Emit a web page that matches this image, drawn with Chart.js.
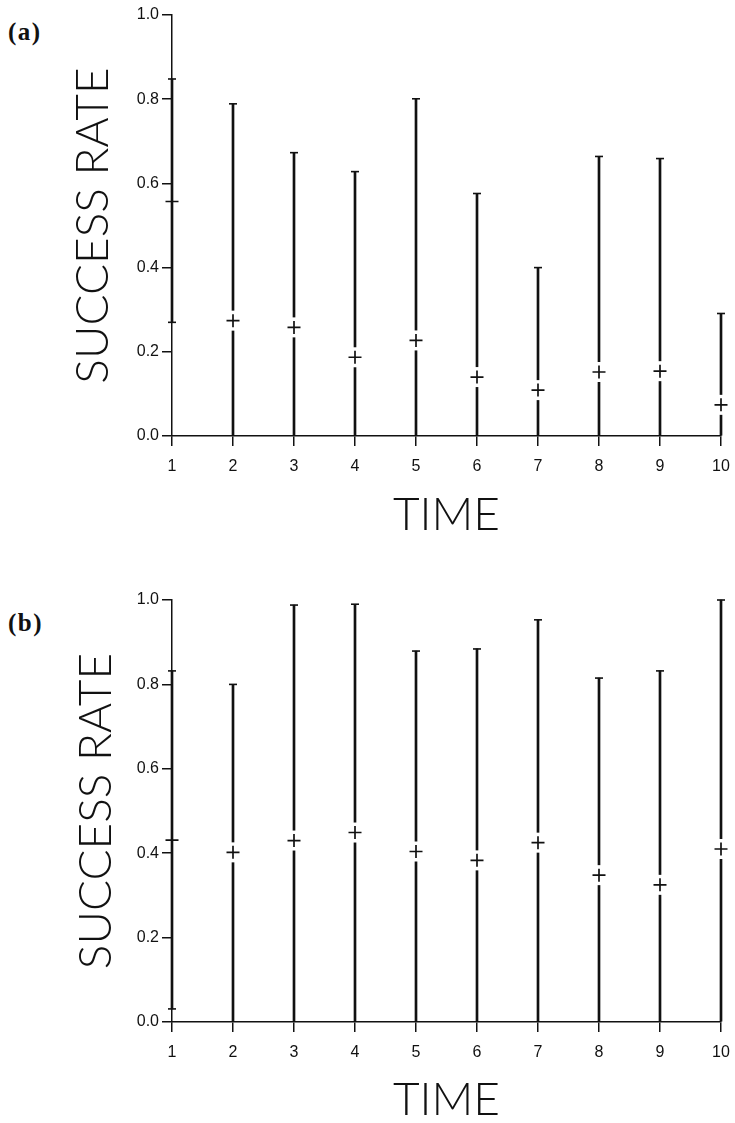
<!DOCTYPE html>
<html><head><meta charset="utf-8">
<script src="https://cdn.jsdelivr.net/npm/chart.js"></script>
<style>
html,body{margin:0;padding:0;background:#fff;}
body{width:735px;height:1123px;position:relative;overflow:hidden;}
canvas{position:absolute;left:0;}
#c1{top:0;}
#c2{top:540px;}
.tag{position:absolute;left:8px;font-family:"Liberation Serif",serif;font-weight:bold;font-size:25px;line-height:1;letter-spacing:1.5px;color:#111;}
</style></head><body>
<div class="tag" style="top:19px">(a)</div>
<div class="tag" style="top:610px">(b)</div>
<canvas id="c1" width="735" height="540"></canvas>
<canvas id="c2" width="735" height="583"></canvas>
<script>
const categories = ['1','2','3','4','5','6','7','8','9','10'];
const yTickLabels = ['0.0','0.2','0.4','0.6','0.8','1.0'];
const xTitle = 'TIME';
const yTitle = 'SUCCESS RATE';

// panel (a)
const meanA  = [0.557, 0.274, 0.258, 0.187, 0.227, 0.140, 0.109, 0.152, 0.154, 0.074];
const upperA = [0.848, 0.789, 0.673, 0.628, 0.801, 0.576, 0.400, 0.664, 0.659, 0.291];
const lowerA = [0.270, 0, 0, 0, 0, 0, 0, 0, 0, 0];

// panel (b)
const meanB  = [0.431, 0.402, 0.430, 0.449, 0.404, 0.383, 0.425, 0.348, 0.325, 0.410];
const upperB = [0.832, 0.800, 0.988, 0.990, 0.879, 0.884, 0.953, 0.815, 0.832, 1.000];
const lowerB = [0.031, 0, 0, 0, 0, 0, 0, 0, 0, 0];

const INK = '#111';

function makeChart(id, means, lows, highs, cfg) {
  const ctx = document.getElementById(id);
  return new Chart(ctx, {
    type: 'bar',
    data: {
      labels: categories,
      datasets: [
        { type: 'bar', data: lows.map((l, i) => [l, highs[i]]), backgroundColor: INK,
          borderWidth: 0, barThickness: 2, order: 5, clip: false },
        { type: 'line', data: means.map((m, i) => i === 0 ? null : m), showLine: false,
          pointStyle: 'line', pointRotation: 90, pointRadius: 10, pointBorderColor: '#fff',
          pointBorderWidth: 4, order: 4, clip: false },
        { type: 'line', data: means, showLine: false, pointStyle: 'cross', pointRadius: 6.5,
          pointBorderColor: INK, pointBorderWidth: 1.7, order: 3, clip: false },
        { type: 'line', data: highs, showLine: false, pointStyle: 'line', pointRadius: 4,
          pointBorderColor: INK, pointBorderWidth: 1.6, order: 2, clip: false },
        { type: 'line', data: lows.map(l => l > 0 ? l : null), showLine: false, pointStyle: 'line',
          pointRadius: 4, pointBorderColor: INK, pointBorderWidth: 1.6, order: 1, clip: false }
      ]
    },
    options: {
      responsive: false,
      animation: false,
      devicePixelRatio: 1,
      events: [],
      layout: { padding: { top: cfg.top, right: 14, left: 0, bottom: 0 } },
      plugins: { legend: { display: false }, tooltip: { enabled: false }, title: { display: false } },
      scales: {
        x: {
          type: 'category',
          offset: false,
          grid: { display: true, drawOnChartArea: false, drawTicks: true, tickLength: 10,
                  color: INK, lineWidth: 1.5, offset: false },
          border: { display: true, color: INK, width: 1.5 },
          ticks: { color: INK, font: { family: 'Liberation Sans', size: 16 }, padding: 11,
                   maxRotation: 0, autoSkip: false },
          title: { display: true, text: xTitle, color: INK,
                   font: { family: 'Lato', weight: 300, size: 46, lineHeight: 1 },
                   padding: { top: 0, bottom: cfg.xTitlePad } },
          afterFit: s => { s.height = cfg.xHeight; s.paddingLeft = 0; s.paddingRight = 0; }
        },
        y: {
          min: 0, max: 1,
          grid: { display: true, drawOnChartArea: false, drawTicks: true, tickLength: 10,
                  color: INK, lineWidth: 1.5 },
          border: { display: true, color: INK, width: 1.5 },
          ticks: { stepSize: 0.2, color: INK, font: { family: 'Liberation Sans', size: 16 }, padding: 3,
                   callback: v => yTickLabels[Math.round(v * 5)] },
          title: { display: true, text: yTitle, color: INK,
                   font: { family: 'Lato', weight: 300, size: 46, lineHeight: 1 },
                   padding: { top: cfg.yTitlePad, bottom: 0 } },
          afterFit: s => { s.width = 172; s.paddingTop = 0; s.paddingBottom = 0; }
        }
      }
    }
  });
}

makeChart('c1', meanA, lowerA, upperA, { top: 15, xHeight: 104, xTitlePad: 2, yTitlePad: 70 });
makeChart('c2', meanB, lowerB, upperB, { top: 60, xHeight: 101, xTitlePad: 0, yTitlePad: 73 });
</script>
</body></html>
